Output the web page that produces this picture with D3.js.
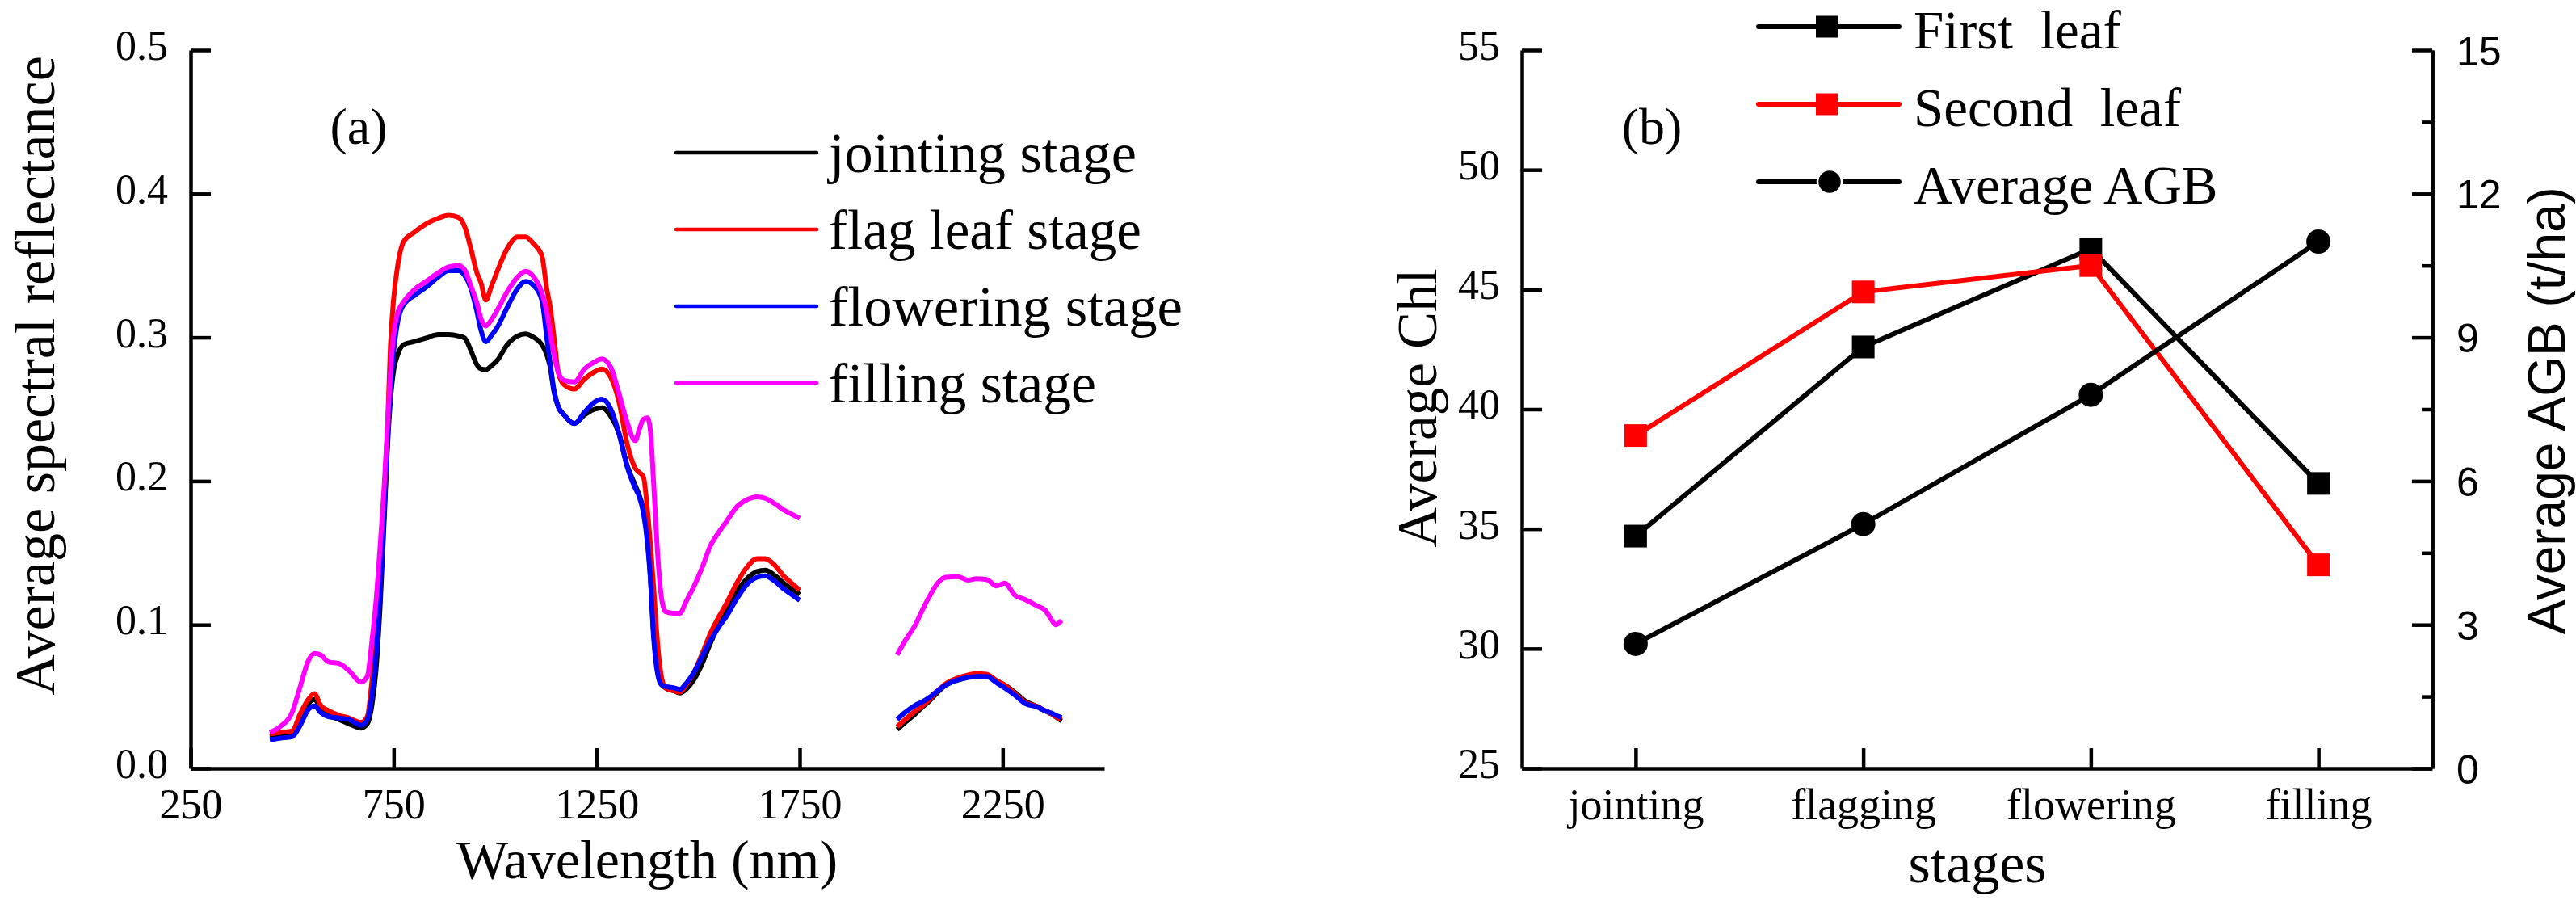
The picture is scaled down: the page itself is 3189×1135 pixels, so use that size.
<!DOCTYPE html>
<html>
<head>
<meta charset="utf-8">
<script src="https://cdn.jsdelivr.net/npm/d3@7"></script>
<style>
  html, body { margin: 0; padding: 0; background: #fff; }
  svg { display: block; }
  text { font-family: "Liberation Serif", "Times New Roman", serif; fill: #000; }
</style>
</head>
<body>
<svg id="chart" width="3189" height="1135"></svg>
<script>
// ---- panel (a): spectra ----
const wavelengths = [
  445, 470, 500, 520, 540, 555, 570, 590, 615, 640,
  670, 685, 697, 707, 717, 727, 735, 742, 750, 760,
  775, 800, 830, 860, 885, 910, 925, 940, 955, 965,
  977, 990, 1005, 1030, 1055, 1075, 1095, 1115, 1127, 1135,
  1145, 1155, 1170, 1195, 1220, 1245, 1263, 1285, 1305, 1325,
  1345, 1355, 1365, 1375, 1382, 1390, 1400, 1410, 1420, 1440,
  1455, 1470, 1490, 1510, 1530, 1550, 1570, 1595, 1620, 1645,
  1665, 1690, 1710, 1730, 1750,
  1870,
  1990, 2010, 2035, 2050, 2070, 2090, 2110, 2140, 2165, 2185,
  2210, 2235, 2255, 2280, 2305, 2335, 2355, 2370, 2380, 2395
];

const jointing = [
  .022, .023, .024, .033, .045, .048, .042, .037, .034, .031,
  .028, .031, .045, .070, .115, .175, .225, .256, .277, .288,
  .295, .297, .2995, .302, .302, .301, .2995, .291, .281, .278,
  .2775, .280, .284, .295, .301, .3025, .300, .295, .288, .280,
  .262, .252, .246, .240, .246, .250, .251, .245, .233, .211,
  .197, .190, .180, .160, .135, .095, .068, .059, .056, .054,
  .0525, .055, .062, .073, .087, .099, .109, .123, .132, .137,
  .138, .134, .129, .125, .121,
  null,
  .027, .032, .038, .042, .047, .053, .058, .0615, .0635, .065,
  .065, .061, .058, .053, .047, .043, .040, .038, .036, .033
];

const flagLeaf = [
  .024, .025, .026, .038, .048, .052, .044, .040, .037, .035,
  .032, .036, .062, .090, .130, .190, .238, .294, .327, .350,
  .367, .373, .379, .383, .385, .3835, .377, .362, .345, .338,
  .326, .335, .346, .362, .370, .370, .365, .357, .334, .322,
  .300, .276, .267, .264, .271, .276, .278, .272, .255, .226,
  .209, .206, .203, .180, .157, .127, .087, .063, .056, .054,
  .053, .058, .067, .080, .094, .105, .115, .129, .140, .146,
  .146, .141, .134, .129, .124,
  null,
  .029, .034, .040, .043, .048, .054, .059, .063, .065, .066,
  .0655, .061, .058, .052, .046, .043, .040, .038, .036, .034
];

const flowering = [
  .020, .021, .022, .030, .041, .0435, .039, .036, .035, .034,
  .030, .034, .052, .080, .125, .180, .230, .262, .290, .311,
  .323, .329, .335, .342, .3465, .3465, .343, .334, .318, .305,
  .297, .301, .307, .321, .334, .339, .336, .326, .300, .283,
  .263, .252, .246, .240, .248, .255, .257, .250, .233, .210,
  .195, .189, .178, .157, .133, .092, .066, .058, .057, .056,
  .055, .059, .067, .078, .089, .098, .106, .118, .128, .133,
  .134, .130, .125, .121, .117,
  null,
  .034, .039, .044, .046, .0495, .054, .058, .0617, .0633, .064,
  .064, .0596, .056, .051, .0452, .0427, .040, .0385, .037, .0354
];

const filling = [
  .025, .029, .039, .057, .075, .080, .079, .074, .073, .068,
  .060, .064, .090, .118, .156, .198, .240, .275, .302, .317,
  .325, .333, .339, .345, .349, .350, .347, .336, .324, .313,
  .308, .312, .319, .332, .342, .346, .342, .331, .318, .304,
  .288, .276, .270, .269, .278, .283, .285, .279, .261, .241,
  .228, .236, .243, .244, .236, .200, .150, .118, .109, .108,
  .108, .116, .127, .140, .155, .164, .172, .182, .187, .189,
  .188, .184, .180, .177, .174,
  null,
  .079, .089, .100, .109, .120, .129, .133, .1335, .131, .132,
  .1315, .127, .129, .1205, .1175, .113, .110, .1035, .100, .103
];

const spectraNames = ["jointing stage", "flag leaf stage", "flowering stage", "filling stage"];
const spectraColors = ["#000000", "#ff0000", "#0000ff", "#ff00ff"];
const spectra = [jointing, flagLeaf, flowering, filling];
const wlTicks = [250, 750, 1250, 1750, 2250];
const reflTicks = [0, 0.1, 0.2, 0.3, 0.4, 0.5];

// ---- panel (b): stages ----
const stages = ["jointing", "flagging", "flowering", "filling"];
const firstLeaf = [34.7, 42.6, 46.7, 36.9];
const secondLeaf = [38.9, 44.9, 46.0, 33.5];
const averageAGB = [2.6, 5.1, 7.8, 11.0];
const chlTicks = [25, 30, 35, 40, 45, 50, 55];
const agbTicks = [0, 3, 6, 9, 12, 15];
const agbMinorTicks = [1.5, 4.5, 7.5, 10.5, 13.5];

const svg = d3.select('#chart');
svg.append('rect').attr('width', 3189).attr('height', 1135).attr('fill', '#fff');

const SERIF = '"Liberation Serif", "Times New Roman", serif';
const SANS = '"Liberation Sans", Arial, sans-serif';
const AXW = 4.5;
const styleAxis = (g, fs, family = SERIF) => {
    g.select('.domain').attr('stroke-width', AXW).attr('stroke', '#000');
    g.selectAll('.tick line').attr('stroke-width', AXW).attr('stroke', '#000');
    g.selectAll('.tick text')
        .style('font-family', family)
        .attr('font-size', fs).attr('fill', '#000');
};

// ================= panel (a) =================
const xA = d3.scaleLinear().domain([250, 2500]).range([236, 1367]);
const yA = d3.scaleLinear().domain([0, 0.5]).range([951, 62]);

svg.append('g')
    .attr('transform', 'translate(0,951)')
    .call(d3.axisBottom(xA).tickValues(wlTicks).tickFormat(d3.format('d'))
        .tickSize(-25).tickSizeOuter(0).tickPadding(25))
    .call(g => styleAxis(g, 52));

svg.append('g')
    .attr('transform', 'translate(236,0)')
    .call(d3.axisLeft(yA).tickValues(reflTicks).tickFormat(d3.format('.1f'))
        .tickSize(-25).tickSizeOuter(0).tickPadding(28))
    .call(g => styleAxis(g, 52))
    .call(g => g.selectAll('.tick text').attr('dy', '0.22em'));

const lineA = d3.line()
    .defined(d => d[1] != null)
    .x(d => xA(d[0]))
    .y(d => yA(d[1]))
    .curve(d3.curveMonotoneX);

spectra.forEach((s, i) => {
    svg.append('path')
        .datum(wavelengths.map((w, j) => [w, s[j]]))
        .attr('d', lineA)
        .attr('fill', 'none')
        .attr('stroke', spectraColors[i])
        .attr('stroke-width', 6)
        .attr('stroke-linejoin', 'round');
});

svg.append('text').attr('x', 444).attr('y', 178)
    .attr('text-anchor', 'middle').attr('font-size', 64).text('(a)');

// text widths as measured on the reference legend
const legAWidths = [381, 387, 438, 331];
const legA = svg.append('g');
spectraNames.forEach((name, i) => {
    const yy = 189 + i * 95;
    legA.append('line').attr('x1', 837).attr('x2', 1011).attr('y1', yy).attr('y2', yy)
        .attr('stroke', spectraColors[i]).attr('stroke-width', 4.5).attr('stroke-linecap', 'round');
    legA.append('text').attr('x', 1026).attr('y', yy + 24).attr('font-size', 70)
        .attr('textLength', legAWidths[i]).attr('lengthAdjust', 'spacingAndGlyphs')
        .text(name);
});

svg.append('text')
    .attr('transform', 'translate(67,465) rotate(-90)')
    .attr('text-anchor', 'middle').attr('font-size', 70)
    .text('Average spectral reflectance');

svg.append('text').attr('x', 801).attr('y', 1087)
    .attr('text-anchor', 'middle').attr('font-size', 68).text('Wavelength (nm)');

// ================= panel (b) =================
const xB = d3.scalePoint().domain(stages).range([1884, 3011]).padding(0.5);
const yB = d3.scaleLinear().domain([25, 55]).range([951, 62]);
const yB2 = d3.scaleLinear().domain([0, 15]).range([951, 62]);

svg.append('g')
    .attr('transform', 'translate(0,951)')
    .call(d3.axisBottom(xB).tickSize(-25).tickSizeOuter(0).tickPadding(25))
    .call(g => styleAxis(g, 54));

svg.append('g')
    .attr('transform', 'translate(1884,0)')
    .call(d3.axisLeft(yB).tickValues(chlTicks).tickSize(-25).tickSizeOuter(0).tickPadding(27))
    .call(g => styleAxis(g, 52))
    .call(g => g.selectAll('.tick text').attr('dy', '0.22em'));

svg.append('g')
    .attr('transform', 'translate(3011,0)')
    .call(d3.axisRight(yB2).tickValues(agbMinorTicks).tickSize(-13).tickSizeOuter(0).tickFormat(''))
    .call(g => styleAxis(g, 50, SANS));

svg.append('g')
    .attr('transform', 'translate(3011,0)')
    .call(d3.axisRight(yB2).tickValues(agbTicks).tickSize(-25).tickSizeOuter(0).tickPadding(30))
    .call(g => styleAxis(g, 50, SANS))
    .call(g => g.selectAll('.tick text').attr('dy', '0.36em'));

const seriesB = [
    { vals: firstLeaf, y: yB, color: '#000000', shape: 'square' },
    { vals: secondLeaf, y: yB, color: '#ff0000', shape: 'square' },
    { vals: averageAGB, y: yB2, color: '#000000', shape: 'circle' }
];

seriesB.forEach(s => {
    const pts = stages.map((st, i) => [xB(st), s.y(s.vals[i])]);
    svg.append('path')
        .datum(pts)
        .attr('d', d3.line())
        .attr('fill', 'none')
        .attr('stroke', s.color)
        .attr('stroke-width', 6)
        .attr('stroke-linejoin', 'round');
    if (s.shape === 'square') {
        svg.selectAll(null).data(pts).enter().append('rect')
            .attr('x', d => d[0] - 14).attr('y', d => d[1] - 14)
            .attr('width', 28).attr('height', 28)
            .attr('fill', s.color);
    } else {
        svg.selectAll(null).data(pts).enter().append('circle')
            .attr('cx', d => d[0]).attr('cy', d => d[1]).attr('r', 15)
            .attr('fill', s.color);
    }
});

svg.append('text').attr('x', 2045).attr('y', 178)
    .attr('text-anchor', 'middle').attr('font-size', 64).text('(b)');

const legBNames = ['First  leaf', 'Second  leaf', 'Average AGB'];
const legB = svg.append('g');
seriesB.forEach((s, i) => {
    const yy = 33 + i * 96;
    legB.append('line').attr('x1', 2177).attr('x2', 2351).attr('y1', yy).attr('y2', yy)
        .attr('stroke', s.color).attr('stroke-width', 6).attr('stroke-linecap', 'round');
    if (s.shape === 'square') {
        legB.append('rect').attr('x', 2248).attr('y', yy - 13.5).attr('width', 27).attr('height', 27)
            .attr('fill', s.color);
    } else {
        legB.append('circle').attr('cx', 2265).attr('cy', yy).attr('r', 15)
            .attr('fill', s.color).attr('stroke', '#fff').attr('stroke-width', 2.5);
    }
    legB.append('text').attr('x', 2369).attr('y', yy + 27).attr('font-size', 67)
        .style('white-space', 'pre').text(legBNames[i]);
});

svg.append('text')
    .attr('transform', 'translate(1778,505) rotate(-90)')
    .attr('text-anchor', 'middle').attr('font-size', 69)
    .text('Average Chl');

svg.append('text')
    .attr('transform', 'translate(3175,508) rotate(-90)')
    .attr('text-anchor', 'middle').attr('font-size', 64)
    .style('font-family', SANS)
    .text('Average AGB (t/ha)');

svg.append('text').attr('x', 2448).attr('y', 1092)
    .attr('text-anchor', 'middle').attr('font-size', 70).text('stages');
</script>
</body>
</html>
